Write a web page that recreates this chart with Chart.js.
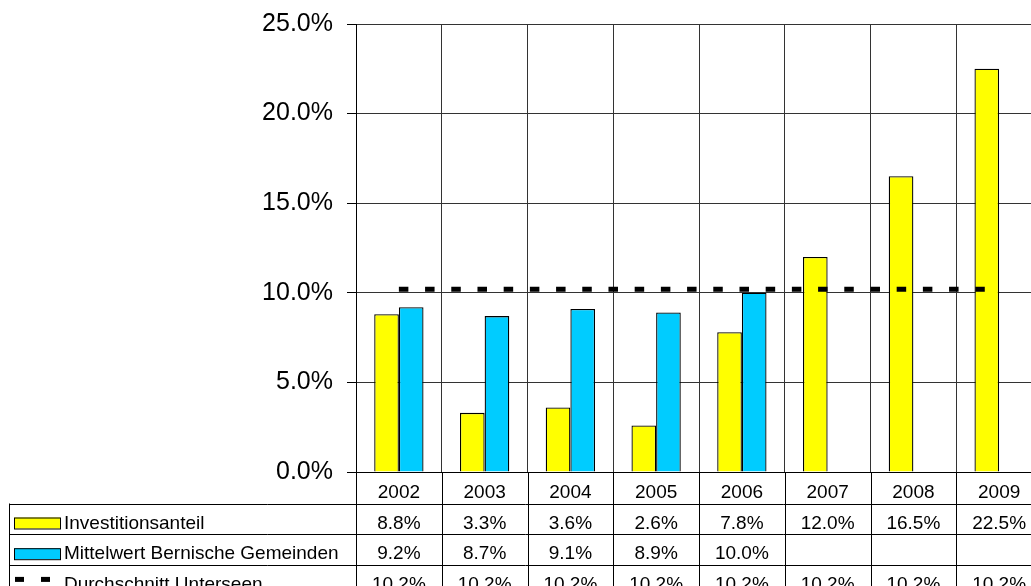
<!DOCTYPE html>
<html>
<head>
<meta charset="utf-8">
<script src="https://cdn.jsdelivr.net/npm/chart.js@4.4.0/dist/chart.umd.min.js"></script>
<style>
  html, body { margin: 0; padding: 0; background: #fff; overflow: hidden; }
  #wrap { width: 1045px; height: 586px; }
</style>
</head>
<body>
<div id="wrap"><canvas id="chart" width="1045" height="586"></canvas></div>
<script>
// Data
const years = ['2002', '2003', '2004', '2005', '2006', '2007', '2008', '2009'];
const investitionsanteil = [8.8, 3.3, 3.6, 2.6, 7.8, 12.0, 16.5, 22.5];
const mittelwertBern = [9.2, 8.7, 9.1, 8.9, 10.0, null, null, null];
const durchschnittUnterseen = [10.2, 10.2, 10.2, 10.2, 10.2, 10.2, 10.2, 10.2];
const yTicks = [0, 5, 10, 15, 20, 25];

const FONT = '"Liberation Sans", Arial, sans-serif';
const YELLOW = '#FFFF00';
const BLUE = '#00CCFF';

// Rows of the data table under the chart
const tableRows = [
  { label: 'Investitionsanteil', values: investitionsanteil, key: 'box', color: YELLOW },
  { label: 'Mittelwert Bernische Gemeinden', values: mittelwertBern, key: 'box', color: BLUE },
  { label: 'Durchschnitt Unterseen', values: durchschnittUnterseen, key: 'dash', color: '#000' }
];

// Draws the data table below the x axis
const dataTablePlugin = {
  id: 'dataTable',
  afterDraw(chart) {
    const ctx = chart.ctx;
    const xs = chart.scales.x;
    const n = years.length;
    const colW = xs.width / n;
    const top = chart.chartArea.bottom;
    const headerH = 31.5;
    const rowH = 30.7;
    const tableLeft = 9;
    const bottom = top + headerH + rowH * tableRows.length;

    ctx.save();
    ctx.strokeStyle = '#000';
    ctx.lineWidth = 1;

    // vertical lines of the value columns
    for (let i = 0; i <= n; i++) {
      const x = Math.round(xs.left + i * colW) + 0.5;
      ctx.beginPath();
      ctx.moveTo(x, top);
      ctx.lineTo(x, bottom);
      ctx.stroke();
    }
    // left border of label column
    ctx.beginPath();
    ctx.moveTo(tableLeft + 0.5, top + headerH);
    ctx.lineTo(tableLeft + 0.5, bottom);
    ctx.stroke();

    // horizontal lines
    for (let r = 0; r <= tableRows.length; r++) {
      const y = Math.round(top + headerH + r * rowH) + 0.5;
      ctx.beginPath();
      ctx.moveTo(tableLeft, y);
      ctx.lineTo(xs.right, y);
      ctx.stroke();
    }

    ctx.font = '19px ' + FONT;
    ctx.fillStyle = '#000';
    ctx.textBaseline = 'alphabetic';

    tableRows.forEach((row, r) => {
      const rowTop = top + headerH + r * rowH;
      const baseline = rowTop + 25;

      // legend key
      if (row.key === 'box') {
        ctx.fillStyle = row.color;
        ctx.fillRect(14, rowTop + 14, 46, 11);
        ctx.strokeStyle = '#000';
        ctx.strokeRect(14.5, rowTop + 14.5, 46, 11);
      } else {
        ctx.fillStyle = '#000';
        ctx.fillRect(15, rowTop + 12, 9, 5);
        ctx.fillRect(41, rowTop + 12, 9, 5);
      }

      ctx.fillStyle = '#000';
      ctx.textAlign = 'left';
      ctx.fillText(row.label, 64, baseline);

      ctx.textAlign = 'center';
      row.values.forEach((v, i) => {
        if (v === null) return;
        const cx = xs.left + (i + 0.5) * colW;
        ctx.fillText(v.toFixed(1) + '%', cx, baseline);
      });
    });
    ctx.restore();
  }
};

const ctx = document.getElementById('chart').getContext('2d');
const chart = new Chart(ctx, {
  type: 'bar',
  data: {
    labels: years,
    datasets: [
      {
        type: 'line',
        label: 'Durchschnitt Unterseen',
        data: durchschnittUnterseen,
        borderColor: '#000',
        borderWidth: 5,
        borderDash: [9.5, 16.7],
        borderCapStyle: 'butt',
        pointRadius: 0,
        fill: false,
        order: 0
      },
      {
        label: 'Investitionsanteil',
        data: investitionsanteil,
        backgroundColor: YELLOW,
        borderColor: '#000',
        borderWidth: 1.3,
        order: 1
      },
      {
        label: 'Mittelwert Bernische Gemeinden',
        data: mittelwertBern,
        backgroundColor: BLUE,
        borderColor: '#000',
        borderWidth: 1.3,
        order: 1
      }
    ]
  },
  options: {
    responsive: false,
    animation: false,
    devicePixelRatio: 1,
    barPercentage: 1.0,
    categoryPercentage: 0.575,
    layout: { padding: { top: 24, left: 0, right: 3, bottom: 0 } },
    plugins: {
      legend: { display: false },
      tooltip: { enabled: false }
    },
    scales: {
      x: {
        offset: true,
        grid: { color: '#333', lineWidth: 1, offset: true, drawTicks: false },
        border: { color: '#000', width: 1 },
        ticks: { color: '#000', font: { family: FONT, size: 19 }, padding: 9, maxRotation: 0 },
        afterFit(scale) { scale.height = 114; }
      },
      y: {
        min: 0,
        max: 25,
        grid: { color: '#333', lineWidth: 1, tickLength: 9, tickColor: '#000' },
        border: { color: '#000', width: 1 },
        afterBuildTicks(scale) { scale.ticks = yTicks.map(v => ({ value: v })); },
        ticks: {
          color: '#000',
          font: { family: FONT, size: 25 },
          padding: 14,
          callback: v => v.toFixed(1) + '%'
        },
        afterFit(scale) {
          scale.width = 356;
          scale.paddingTop = 0;
          scale.paddingBottom = 0;
        }
      }
    }
  },
  plugins: [dataTablePlugin]
});
</script>
</body>
</html>
